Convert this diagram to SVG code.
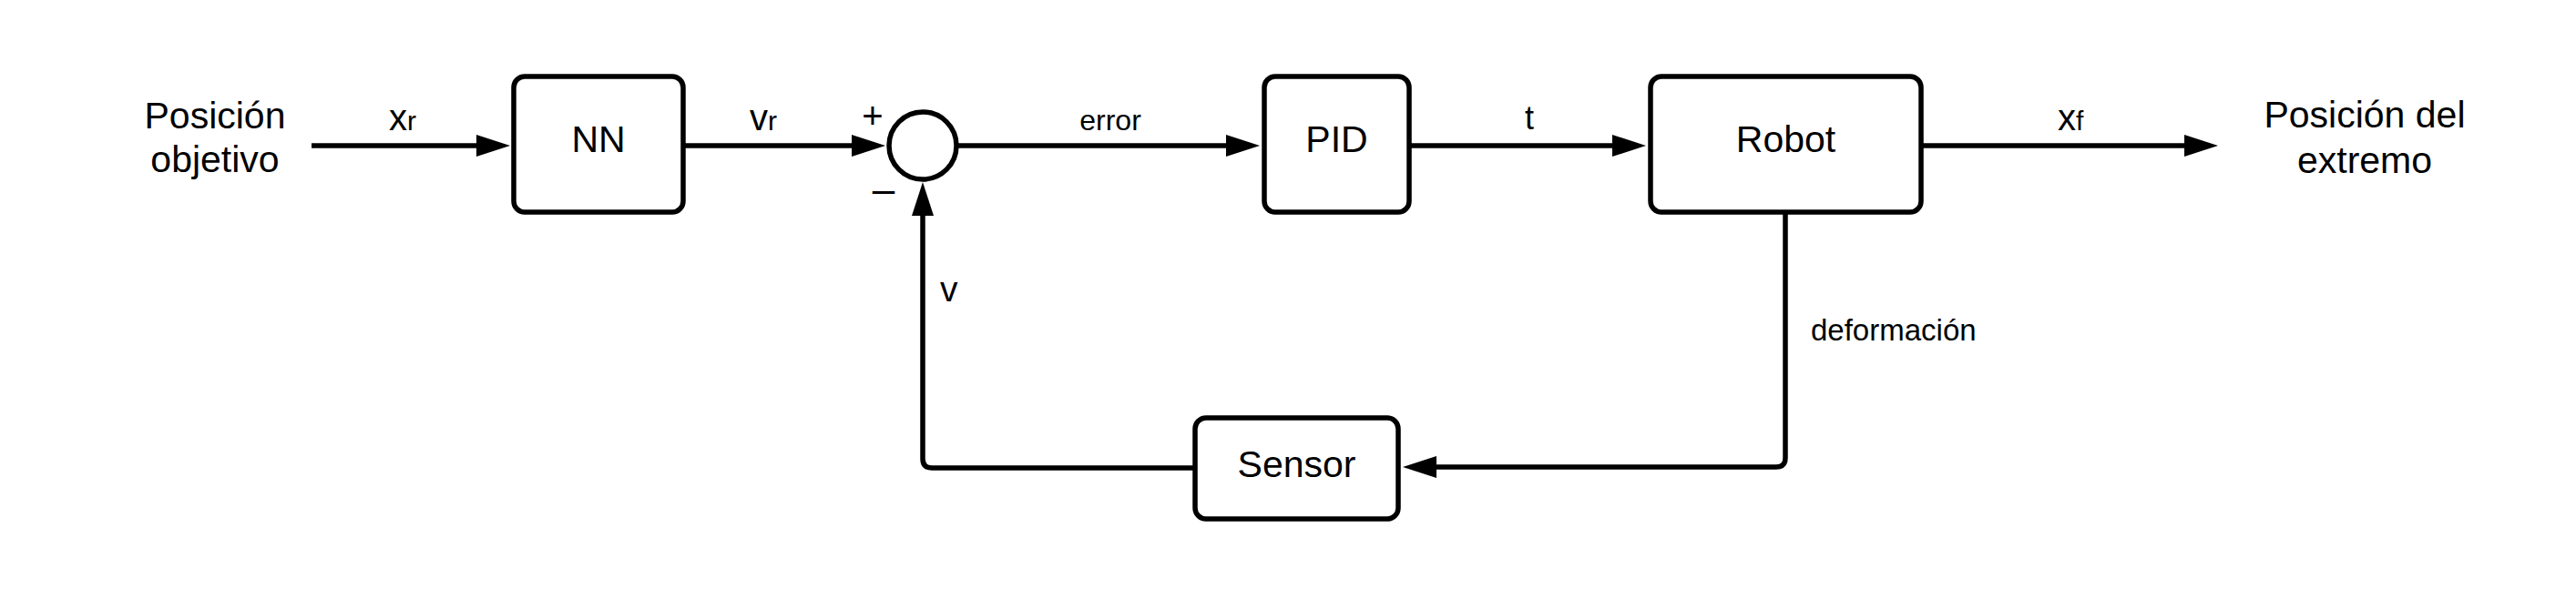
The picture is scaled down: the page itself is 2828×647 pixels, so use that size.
<svg xmlns="http://www.w3.org/2000/svg" width="2828" height="647" viewBox="0 0 2828 647">
<defs>
<style>
text{font-family:"Liberation Sans",Arial,sans-serif;fill:#000}
.node{fill:#fff;stroke:#000;stroke-width:5.5}
.conn{fill:none;stroke:#000;stroke-width:5.5;marker-end:url(#ah)}
.big{font-size:41px}
.lbl{font-size:40px}
.sub{font-size:30px}
.mid{text-anchor:middle}
</style>
<marker id="ah" markerUnits="userSpaceOnUse" viewBox="0 0 37 24" refX="0" refY="12" markerWidth="37" markerHeight="24" orient="auto">
<path d="M0,0 L37,12 L0,24 z" fill="#000"/>
</marker>
</defs>
<rect width="2828" height="647" fill="#fff"/>
<g id="connectors">
<path class="conn" d="M342,160 H523"/>
<path class="conn" d="M750,160 H935"/>
<path class="conn" d="M1050,160 H1346"/>
<path class="conn" d="M1547,160 H1770"/>
<path class="conn" d="M2109,160 H2398"/>
<path class="conn" d="M1960,233 V503 Q1960,513 1950,513 H1577"/>
<path class="conn" d="M1312,514 H1023 Q1013,514 1013,504 V237"/>
</g>
<g id="labels">
<text class="lbl" x="427" y="143">x<tspan class="sub">r</tspan></text>
<text class="lbl" x="823" y="143">v<tspan class="sub">r</tspan></text>
<text x="958" y="141" class="mid" style="font-size:40px">+</text>
<text x="970" y="223" class="mid" style="font-size:44px">–</text>
<text x="1219" y="143" class="mid" style="font-size:32px">error</text>
<text x="1679" y="142" class="mid" style="font-size:36px">t</text>
<text class="lbl" x="2259" y="143">x<tspan class="sub">f</tspan></text>
<text x="1988" y="374" style="font-size:33px">deformación</text>
<text x="1032" y="331" style="font-size:39px">v</text>
</g>
<g id="input">
<text class="big mid" x="236" y="141">Posición</text>
<text class="big mid" x="236" y="189">objetivo</text>
</g>
<g id="output">
<text class="big mid" x="2596" y="140">Posición del</text>
<text class="big mid" x="2596" y="190">extremo</text>
</g>
<g id="nn">
<rect class="node" x="564" y="84" width="186" height="149" rx="12"/>
<text class="big mid" x="657" y="167">NN</text>
</g>
<g id="sum">
<circle class="node" cx="1013" cy="160" r="37"/>
</g>
<g id="pid">
<rect class="node" x="1388" y="84" width="159" height="149" rx="12"/>
<text class="big mid" x="1467.5" y="167">PID</text>
</g>
<g id="robot">
<rect class="node" x="1812" y="84" width="297" height="149" rx="12"/>
<text class="big mid" x="1960.5" y="167">Robot</text>
</g>
<g id="sensor">
<rect class="node" x="1312" y="459" width="223" height="111" rx="12"/>
<text class="big mid" x="1423.5" y="524">Sensor</text>
</g>
</svg>
